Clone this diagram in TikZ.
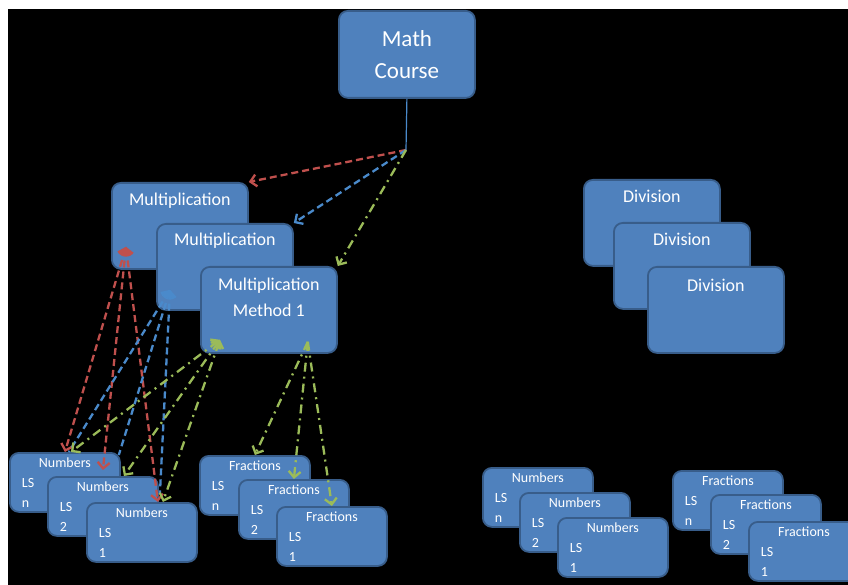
\documentclass[tikz,border=0pt]{standalone}
\usepackage{fontspec}
\setmainfont{Carlito}
\usetikzlibrary{arrows.meta,positioning}
\definecolor{boxblue}{HTML}{4F81BD}
\definecolor{boxline}{HTML}{385D8A}
\definecolor{redlink}{HTML}{C0504D}
\definecolor{bluelink}{HTML}{4A8ACB}
\definecolor{greenlink}{HTML}{9BBB59}
\begin{document}
\begin{tikzpicture}[x=1pt,y=-1pt,
  box/.style={rectangle, rounded corners=9pt, fill=boxblue, draw=boxline, line width=1.8pt, anchor=north west, inner sep=0pt, text=white},
  bigbox/.style={box, minimum width=136pt, minimum height=86pt},
  lsbox/.style={box, minimum height=59pt, text width=86pt, inner xsep=12pt, align=left, font=\fontsize{14}{20}\selectfont},
  bigtext/.style={text=white, inner sep=0pt, align=center, font=\fontsize{18}{26}\selectfont},
  link/.style={line width=2.3pt, >={Straight Barb[length=6pt,width=12pt]}},
  redline/.style={link, redlink, dash pattern=on 7pt off 4pt},
  blueline/.style={link, bluelink, dash pattern=on 7pt off 4pt},
  greenline/.style={link, greenlink, dash pattern=on 9pt off 5pt on 2pt off 5pt}]
\useasboundingbox (0,0) rectangle (848,585);
\fill[white] (0,0) rectangle (848,585);
\clip (0,0) rectangle (848,585);
\fill[black] (8,9) rectangle (848,585);

% top of the tree
\node[box, minimum width=136pt, minimum height=87pt, align=center, font=\fontsize{23}{32}\selectfont] (course) at (338,10) {Math\\Course};
\coordinate (split) at (406,150);

% multiplication stack
\node[bigbox] (mult1) at (111,182) {};
\node[bigtext] (mult1text) at ([yshift=-19pt]mult1.north) {Multiplication};
\node[bigbox] (mult2) at (156,223) {};
\node[bigtext] (mult2text) at ([yshift=-18pt]mult2.north) {Multiplication};
\node[bigbox] (mult3) at (200,266) {};
\node[bigtext] (mult3text) at ([yshift=-31pt]mult3.north) {Multiplication\\Method 1};

% division stack
\node[bigbox] (div1) at (583,179) {};
\node[bigtext] (div1text) at ([yshift=-17pt]div1.north) {Division};
\node[bigbox] (div2) at (613,222) {};
\node[bigtext] (div2text) at ([yshift=-17pt]div2.north) {Division};
\node[bigbox] (div3) at (647,266) {};
\node[bigtext] (div3text) at ([yshift=-19pt]div3.north) {Division};

% learning steps under multiplication
\node[lsbox] (numsLn) at (9,452) {{\centering Numbers\par}LS\\n};
\node[lsbox] (numsL2) at (47,476) {{\centering Numbers\par}LS\\2};
\node[lsbox] (numsL1) at (86,502) {{\centering Numbers\par}LS\\1};
\node[lsbox] (fracLn) at (199,455) {{\centering Fractions\par}LS\\n};
\node[lsbox] (fracL2) at (238,479) {{\centering Fractions\par}LS\\2};
\node[lsbox] (fracL1) at (276,506) {{\centering Fractions\par}LS\\1};

% learning steps under division
\node[lsbox] (numsRn) at (482,467) {{\centering Numbers\par}LS\\n};
\node[lsbox] (numsR2) at (519,492) {{\centering Numbers\par}LS\\2};
\node[lsbox] (numsR1) at (557,517) {{\centering Numbers\par}LS\\1};
\node[lsbox] (fracRn) at (672,470) {{\centering Fractions\par}LS\\n};
\node[lsbox] (fracR2) at (710,494) {{\centering Fractions\par}LS\\2};
\node[lsbox] (fracR1) at (748,521) {{\centering Fractions\par}LS\\1};

% ends of the links inside the boxes
\coordinate (mult1foot) at ([shift={(15,-23)}]mult1.south west);
\coordinate (mult2foot) at ([shift={(14,-21)}]mult2.south west);
\coordinate (mult3foot) at ([shift={(20,-14)}]mult3.south west);
\coordinate (mult3tail) at ([shift={(-30,-12)}]mult3.south east);

% links
\draw[bluelink, line width=1.2pt] (course.south) -- (split);
\draw[redline,->] (split) -- (mult1.north east);
\draw[blueline,->] (split) -- (mult2.north east);
\draw[greenline,->] (split) -- (mult3.north east);

\draw[redline,<->] (mult1foot) -- (numsLn.north);
\draw[redline,<->] (mult1foot) -- ([yshift=6pt]numsL2.north);
\draw[redline,<->] (mult1foot) -- ([xshift=16pt]numsL1.north);

\draw[blueline,<-] (mult2foot) -- ([xshift=4pt]numsLn.north);
\draw[blueline,<-] (mult2foot) -- ([shift={(-2pt,-3pt)}]numsLn.north east);
\draw[blueline,<-] (mult2foot) -- ([shift={(18pt,8pt)}]numsL1.north);

\draw[greenline,<->] (mult3foot) -- ([xshift=6pt]numsLn.north);
\draw[greenline,<->] (mult3foot) -- ([xshift=21pt]numsL2.north);
\draw[greenline,<->] (mult3foot) -- ([xshift=21pt]numsL1.north);
\draw[greenline,->] (mult3tail) -- (fracLn.north);
\draw[greenline,->] (mult3tail) -- (fracL2.north);
\draw[greenline,->] (mult3tail) -- (fracL1.north);
\end{tikzpicture}
\end{document}
